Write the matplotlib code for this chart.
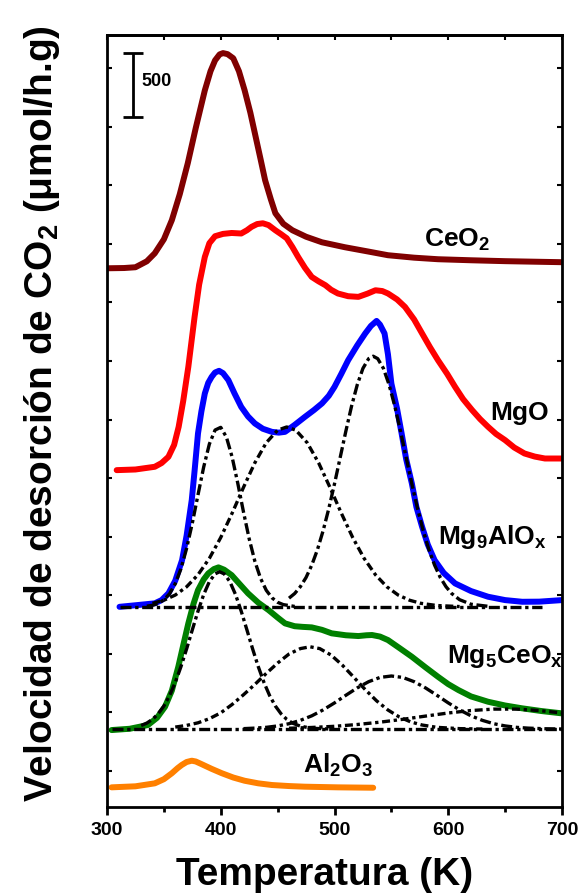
import matplotlib
matplotlib.use('Agg')
import matplotlib.pyplot as plt
from matplotlib import font_manager
from matplotlib.ticker import FixedLocator, MultipleLocator

# fuente tipo Arial en negrita
_disponibles = {f.name for f in font_manager.fontManager.ttflist}
FAMILIA = [f for f in ['Liberation Sans', 'Arial', 'DejaVu Sans'] if f in _disponibles]
plt.rcParams['font.family'] = FAMILIA
plt.rcParams['font.weight'] = 'bold'
plt.rcParams['mathtext.default'] = 'regular'

# ---- datos (T en K, velocidad en umol/h.g) ----
CEO2_T = [300, 315, 325, 335, 342, 350, 357, 364, 371, 378, 386, 391, 395, 399, 402, 406, 411, 416, 421,
          426, 430, 435, 439, 444, 448, 455, 463, 475, 489, 509, 530, 547, 570, 591, 620, 650, 700]
CEO2_Y = [4166, 4168, 4174, 4220, 4282, 4390, 4538, 4740, 4978, 5250, 5542, 5690, 5774, 5820, 5830, 5822,
          5790, 5690, 5542, 5370, 5210, 5010, 4847, 4700, 4592, 4510, 4460, 4410, 4367, 4329, 4295, 4267,
          4248, 4236, 4228, 4221, 4213]

MGO_T = [308.5, 325, 342, 348, 354, 359, 363, 367, 371.5, 375, 377, 381, 386, 390, 395, 402, 409.6, 418,
         423, 427, 432, 437, 442, 448, 453, 458, 463, 468, 474, 480, 486, 492, 497, 503, 512, 521, 529, 536,
         542, 547, 555, 562, 570, 577, 584, 591, 599, 606, 613, 621, 628, 635, 642, 650, 658, 667, 676, 685,
         700]
MGO_Y = [2605, 2610, 2631, 2660, 2708, 2800, 2940, 3140, 3404, 3650, 3790, 4040, 4254, 4360, 4414, 4432,
         4439, 4435, 4460, 4486, 4508, 4514, 4500, 4460, 4430, 4398, 4330, 4254, 4170, 4099, 4065, 4035,
         4000, 3971, 3950, 3945, 3970, 3996, 3990, 3971, 3925, 3867, 3770, 3662, 3555, 3455, 3350, 3249,
         3155, 3069, 3000, 2940, 2885, 2837, 2780, 2734, 2710, 2695, 2695]

MG9_T = [311, 325, 342, 348, 354, 360, 366, 370, 374.5, 377, 380, 383, 386, 389, 392, 395, 398.5, 402,
         406.7, 412, 418, 424, 430, 437, 445, 451, 456.5, 465, 474, 482, 489, 495, 500, 506, 512, 520, 527,
         532, 537, 540, 544, 547, 550, 555, 559, 563, 568, 572, 577, 582, 588, 596, 606, 620, 635, 650, 665,
         680, 700]
MG9_Y = [1548, 1560, 1575, 1600, 1652, 1750, 1909, 2100, 2373, 2600, 2889, 3060, 3198, 3280, 3326, 3360,
         3373, 3355, 3301, 3200, 3094, 3020, 2966, 2925, 2901, 2895, 2901, 2955, 3017, 3070, 3121, 3180,
         3249, 3350, 3455, 3570, 3662, 3720, 3759, 3730, 3662, 3500, 3275, 3080, 2889, 2690, 2502, 2320,
         2167, 2030, 1909, 1810, 1729, 1670, 1626, 1600, 1587, 1588, 1600]
MG9_BASE = 1548
MG9_BASE_T = [311, 682]
# componentes de la deconvolución (altura sobre la línea base)
MG9_P1_T = [335, 340, 345, 350, 355, 360, 365, 370, 375, 380, 385, 390, 395, 400, 405, 410, 415, 420, 425,
            430, 435, 440, 445, 450, 455, 465]
MG9_P1_Y = [5, 12, 26, 54, 101, 179, 294, 452, 647, 866, 1081, 1259, 1367, 1388, 1312, 1158, 954, 733, 526,
            352, 220, 128, 70, 35, 17, 3]
MG9_P2_T = [340, 350, 360, 370, 380, 390, 400, 410, 420, 430, 440, 450, 458, 466, 476, 486, 496, 506, 516,
            526, 536, 546, 556, 566, 576, 590, 610]
MG9_P2_Y = [27, 51, 91, 155, 248, 375, 536, 724, 924, 1114, 1269, 1366, 1391, 1366, 1269, 1114, 924, 724,
            536, 375, 248, 155, 91, 51, 27, 10, 2]
MG9_P3_T = [460, 465, 470, 475, 480, 485, 490, 495, 500, 505, 510, 515, 520, 525, 530, 534, 538, 543, 548,
            553, 558, 563, 568, 573, 578, 583, 588, 593, 598, 603, 610, 620, 635]
MG9_P3_Y = [67, 103, 156, 227, 322, 442, 589, 760, 951, 1155, 1359, 1552, 1717, 1844, 1919, 1938, 1919,
            1844, 1717, 1552, 1359, 1155, 951, 760, 589, 442, 322, 227, 156, 103, 55, 20, 4]

MG5_T = [304, 320, 336, 344, 351, 357, 362.7, 367, 371.5, 376, 380, 385, 389, 394, 398, 403, 409.6, 416,
         424, 433, 442, 450, 456.5, 465, 472, 480, 489, 497.5, 510, 521, 528, 533, 540, 547, 557, 568, 580,
         591, 600, 609, 620, 635, 650, 665, 682, 700]
MG5_Y = [595, 605, 634, 690, 775, 900, 1085, 1250, 1420, 1570, 1677, 1760, 1806, 1840, 1853, 1835, 1793,
         1730, 1652, 1580, 1523, 1465, 1420, 1398, 1393, 1389, 1370, 1343, 1328, 1322, 1328, 1330, 1318,
         1291, 1230, 1162, 1080, 1007, 950, 904, 855, 814, 785, 763, 742, 724]
MG5_BASE = 603
MG5_BASE_T = [304, 700]
MG5_A_T = [330, 335, 340, 345, 350, 355, 360, 365, 370, 375, 380, 385, 390, 395, 399, 403, 408, 413, 418,
           423, 428, 433, 438, 443, 448, 453, 458, 463, 470, 480, 495]
MG5_A_Y = [27, 46, 75, 118, 178, 258, 360, 482, 620, 767, 911, 1040, 1140, 1200, 1216, 1200, 1140, 1040,
           911, 767, 620, 482, 360, 258, 178, 118, 75, 46, 22, 6, 0]
MG5_B_T = [360, 370, 380, 390, 400, 410, 420, 430, 440, 450, 460, 470, 478.5, 487, 497, 507, 517, 527, 537,
           547, 557, 567, 577, 590, 610, 630]
MG5_B_Y = [15, 28, 48, 80, 125, 190, 265, 345, 430, 510, 580, 622, 636, 622, 572, 493, 400, 305, 218, 147,
           93, 55, 31, 13, 3, 0]
MG5_C_T = [420, 430, 440, 450, 460, 470, 480, 490, 500, 510, 520, 530, 540, 550, 560, 570, 580, 590, 600,
           610, 620, 630, 640, 650, 660, 670, 685, 700]
MG5_C_Y = [3, 7, 13, 24, 41, 67, 102, 148, 202, 261, 318, 366, 399, 410, 399, 366, 318, 261, 202, 148, 102,
           67, 41, 24, 13, 7, 2, 0]
MG5_D_T = [460, 480, 500, 520, 540, 560, 580, 600, 620, 640, 660, 680, 700]
MG5_D_Y = [6, 12, 21, 35, 53, 75, 100, 124, 143, 154, 154, 143, 124]

AL_T = [304, 325, 342, 350, 357, 362, 365.7, 370, 374.5, 378, 383, 392, 401, 411, 421, 433, 445, 460, 474,
        503, 534]
AL_Y = [152, 160, 183, 215, 261, 300, 325, 348, 358, 352, 332, 295, 261, 228, 203, 183, 170, 162, 157, 152,
        149]

# barra de escala
ESCALA = 500
ESCALA_T = 323
ESCALA_Y0 = 5334

ETIQUETAS = [
    ('CeO$_2$', 608, 4383),
    ('MgO', 663, 3046),
    ('Mg$_9$AlO$_x$', 639, 2087),
    ('Mg$_5$CeO$_x$', 650, 1167),
    ('Al$_2$O$_3$', 503.5, 325),
]

XTICKS = [300, 400, 500, 600, 700]

fig = plt.figure(figsize=(5.8, 8.96), dpi=100)
ax = fig.add_axes([107 / 580, 1 - 807 / 896, 455 / 580, 772 / 896])

lw = 4.3
curvas = [(CEO2_T, CEO2_Y, '#800000'), (MGO_T, MGO_Y, '#ff0000'), (MG9_T, MG9_Y, '#0000ff'),
          (MG5_T, MG5_Y, '#008000'), (AL_T, AL_Y, '#ff8000')]
for tt, yy, col in curvas:
    ax.plot(tt, yy, color=col, lw=lw, solid_capstyle='round', solid_joinstyle='round')

# deconvolución (líneas discontinuas negras)
estilo_a = (0, (3.3, 1.1, 1.0, 1.1))
estilo_b = (0, (2.4, 1.1, 1.0, 1.1))
dlw = 2.4
ax.plot(MG9_BASE_T, [MG9_BASE] * 2, color='k', lw=dlw, ls=estilo_a)
ax.plot(MG5_BASE_T, [MG5_BASE] * 2, color='k', lw=dlw, ls=estilo_a)
for tt, yy, est in [(MG9_P1_T, MG9_P1_Y, estilo_a), (MG9_P2_T, MG9_P2_Y, estilo_b),
                    (MG9_P3_T, MG9_P3_Y, estilo_a)]:
    ax.plot(tt, [MG9_BASE + v for v in yy], color='k', lw=dlw, ls=est)
for tt, yy, est in [(MG5_A_T, MG5_A_Y, estilo_a), (MG5_B_T, MG5_B_Y, estilo_b),
                    (MG5_C_T, MG5_C_Y, estilo_a), (MG5_D_T, MG5_D_Y, estilo_b)]:
    ax.plot(tt, [MG5_BASE + v for v in yy], color='k', lw=dlw, ls=est)

# barra de 500
ax.errorbar([ESCALA_T], [ESCALA_Y0 + ESCALA / 2], yerr=ESCALA / 2, color='k', lw=2, capsize=7.5,
            capthick=2)
ax.text(ESCALA_T + 7, ESCALA_Y0 + ESCALA / 2 + 30, str(ESCALA), fontsize=13, fontweight='bold',
        ha='left', va='center')

for txt, x, y in ETIQUETAS:
    ax.text(x, y, txt, fontsize=19, fontweight='bold', ha='center', va='center')

ax.set_xlim(300, 700)
ax.set_ylim(0, 5970)
ax.xaxis.set_major_locator(FixedLocator(XTICKS))
ax.xaxis.set_minor_locator(MultipleLocator(50))
ax.yaxis.set_major_locator(FixedLocator([278 + 453 * k for k in range(13)]))
ax.tick_params(axis='x', which='major', direction='out', length=6, width=2, labelsize=14, pad=4.5,
               top=False)
ax.tick_params(axis='x', which='minor', direction='out', length=3.5, width=2, top=False)
ax.tick_params(axis='y', which='both', direction='in', length=3.5, width=1.5, left=True, right=True,
               labelleft=False)
for lado in ax.spines.values():
    lado.set_linewidth(2)
# marcas superiores hacia dentro
sec = ax.secondary_xaxis('top')
sec.xaxis.set_major_locator(MultipleLocator(50))
sec.tick_params(direction='in', length=3.5, width=1.5, labeltop=False)
sec.spines['top'].set_linewidth(2)
for lbl in ax.get_xticklabels():
    lbl.set_fontweight('bold')

ax.set_xlabel('Temperatura (K)', fontsize=28, fontweight='bold', va='center')
ax.xaxis.set_label_coords(0.479, -0.088)
ax.set_ylabel('Velocidad de desorción de CO$_2$ (μmol/h.g)', fontsize=28, fontweight='bold',
              va='center')
ax.yaxis.set_label_coords(-0.143, 0.51)

fig.savefig('out.png', dpi=100)
